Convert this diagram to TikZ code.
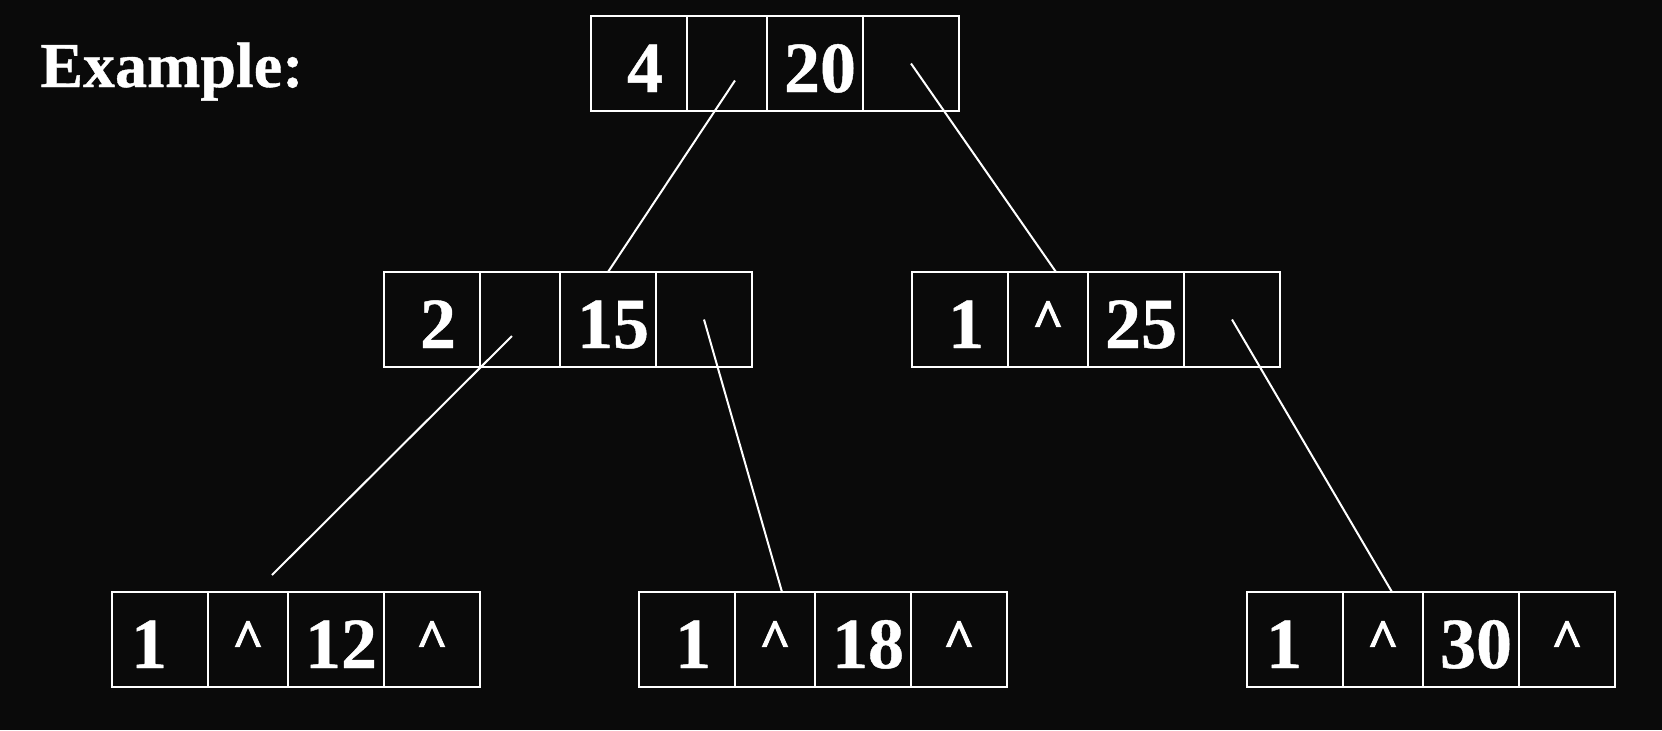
\documentclass[tikz,border=0pt]{standalone}
\usepackage{fontspec}
\setmainfont{Liberation Serif}
\newfontfamily\keyfont[FakeBold=0.6]{Liberation Serif}
\newfontfamily\caretfont[FakeBold=2]{Liberation Serif}
\usepackage{tikz}
\usetikzlibrary{calc,positioning}
\definecolor{bg}{HTML}{0A0A0A}
\tikzset{
    cell/.style={draw=white, line width=1pt, inner sep=0pt, outer sep=0pt,
        minimum height=47.5pt, text=white, text height=28.5pt, text depth=0pt,
        font=\fontsize{36}{40}\keyfont\bfseries},
    kcell/.style={cell, minimum width=48pt},
    pcell/.style={cell, minimum width=40pt},
    link/.style={draw=white, line width=1pt}
}
\newcommand{\up}{\raisebox{5.6pt}{\fontsize{27}{30}\caretfont\bfseries\textasciicircum}}
% one node of the tree: name, position, key, pointer, key, pointer
\newcommand{\btnode}[6]{%
    \node[kcell, anchor=west] (#1-1) at #2 {\hspace*{6pt}#3};
    \node[pcell, right=0pt of #1-1] (#1-2) {#4};
    \node[kcell, right=0pt of #1-2] (#1-3) {\hspace*{5pt}#5};
    \node[kcell, right=0pt of #1-3] (#1-4) {#6};
}
\begin{document}
\begin{tikzpicture}[x=0.5pt,y=-0.5pt]
    \fill[bg] (0,0) rectangle (1662,730);
    \useasboundingbox (0,0) rectangle (1662,730);
    \node[anchor=base west, inner sep=0pt, text=white,
        font=\fontsize{32}{35}\keyfont\bfseries] (title) at (40,87) {Example:};
    %
    \btnode{t}{(591,63.5)}{4}{}{20}{}
    \btnode{m1}{(384,319.5)}{2}{}{15}{}
    \btnode{m2}{(912,319.5)}{1}{\up}{25}{}
    \btnode{l1}{(112,639.5)}{\hspace*{-17pt}1}{\up}{12}{\up}
    \btnode{l2}{(639,639.5)}{1}{\up}{18}{\up}
    \btnode{l3}{(1247,639.5)}{\hspace*{-17pt}1}{\up}{30}{\up}
    %
    \draw[link] ($(t-2.center)+(8,17)$) -- (m1-3.north);
    \draw[link] (t-4.center) -- ($(m2-2.north)+(8,0)$);
    \draw[link] ($(m1-2.center)+(-8,16.5)$) -- ($(l1-2.north)+(24,-17)$);
    \draw[link] (m1-4.center) -- ($(l2-2.north)+(7,0)$);
    \draw[link] (m2-4.center) -- ($(l3-2.north)+(9,0)$);
\end{tikzpicture}
\end{document}
